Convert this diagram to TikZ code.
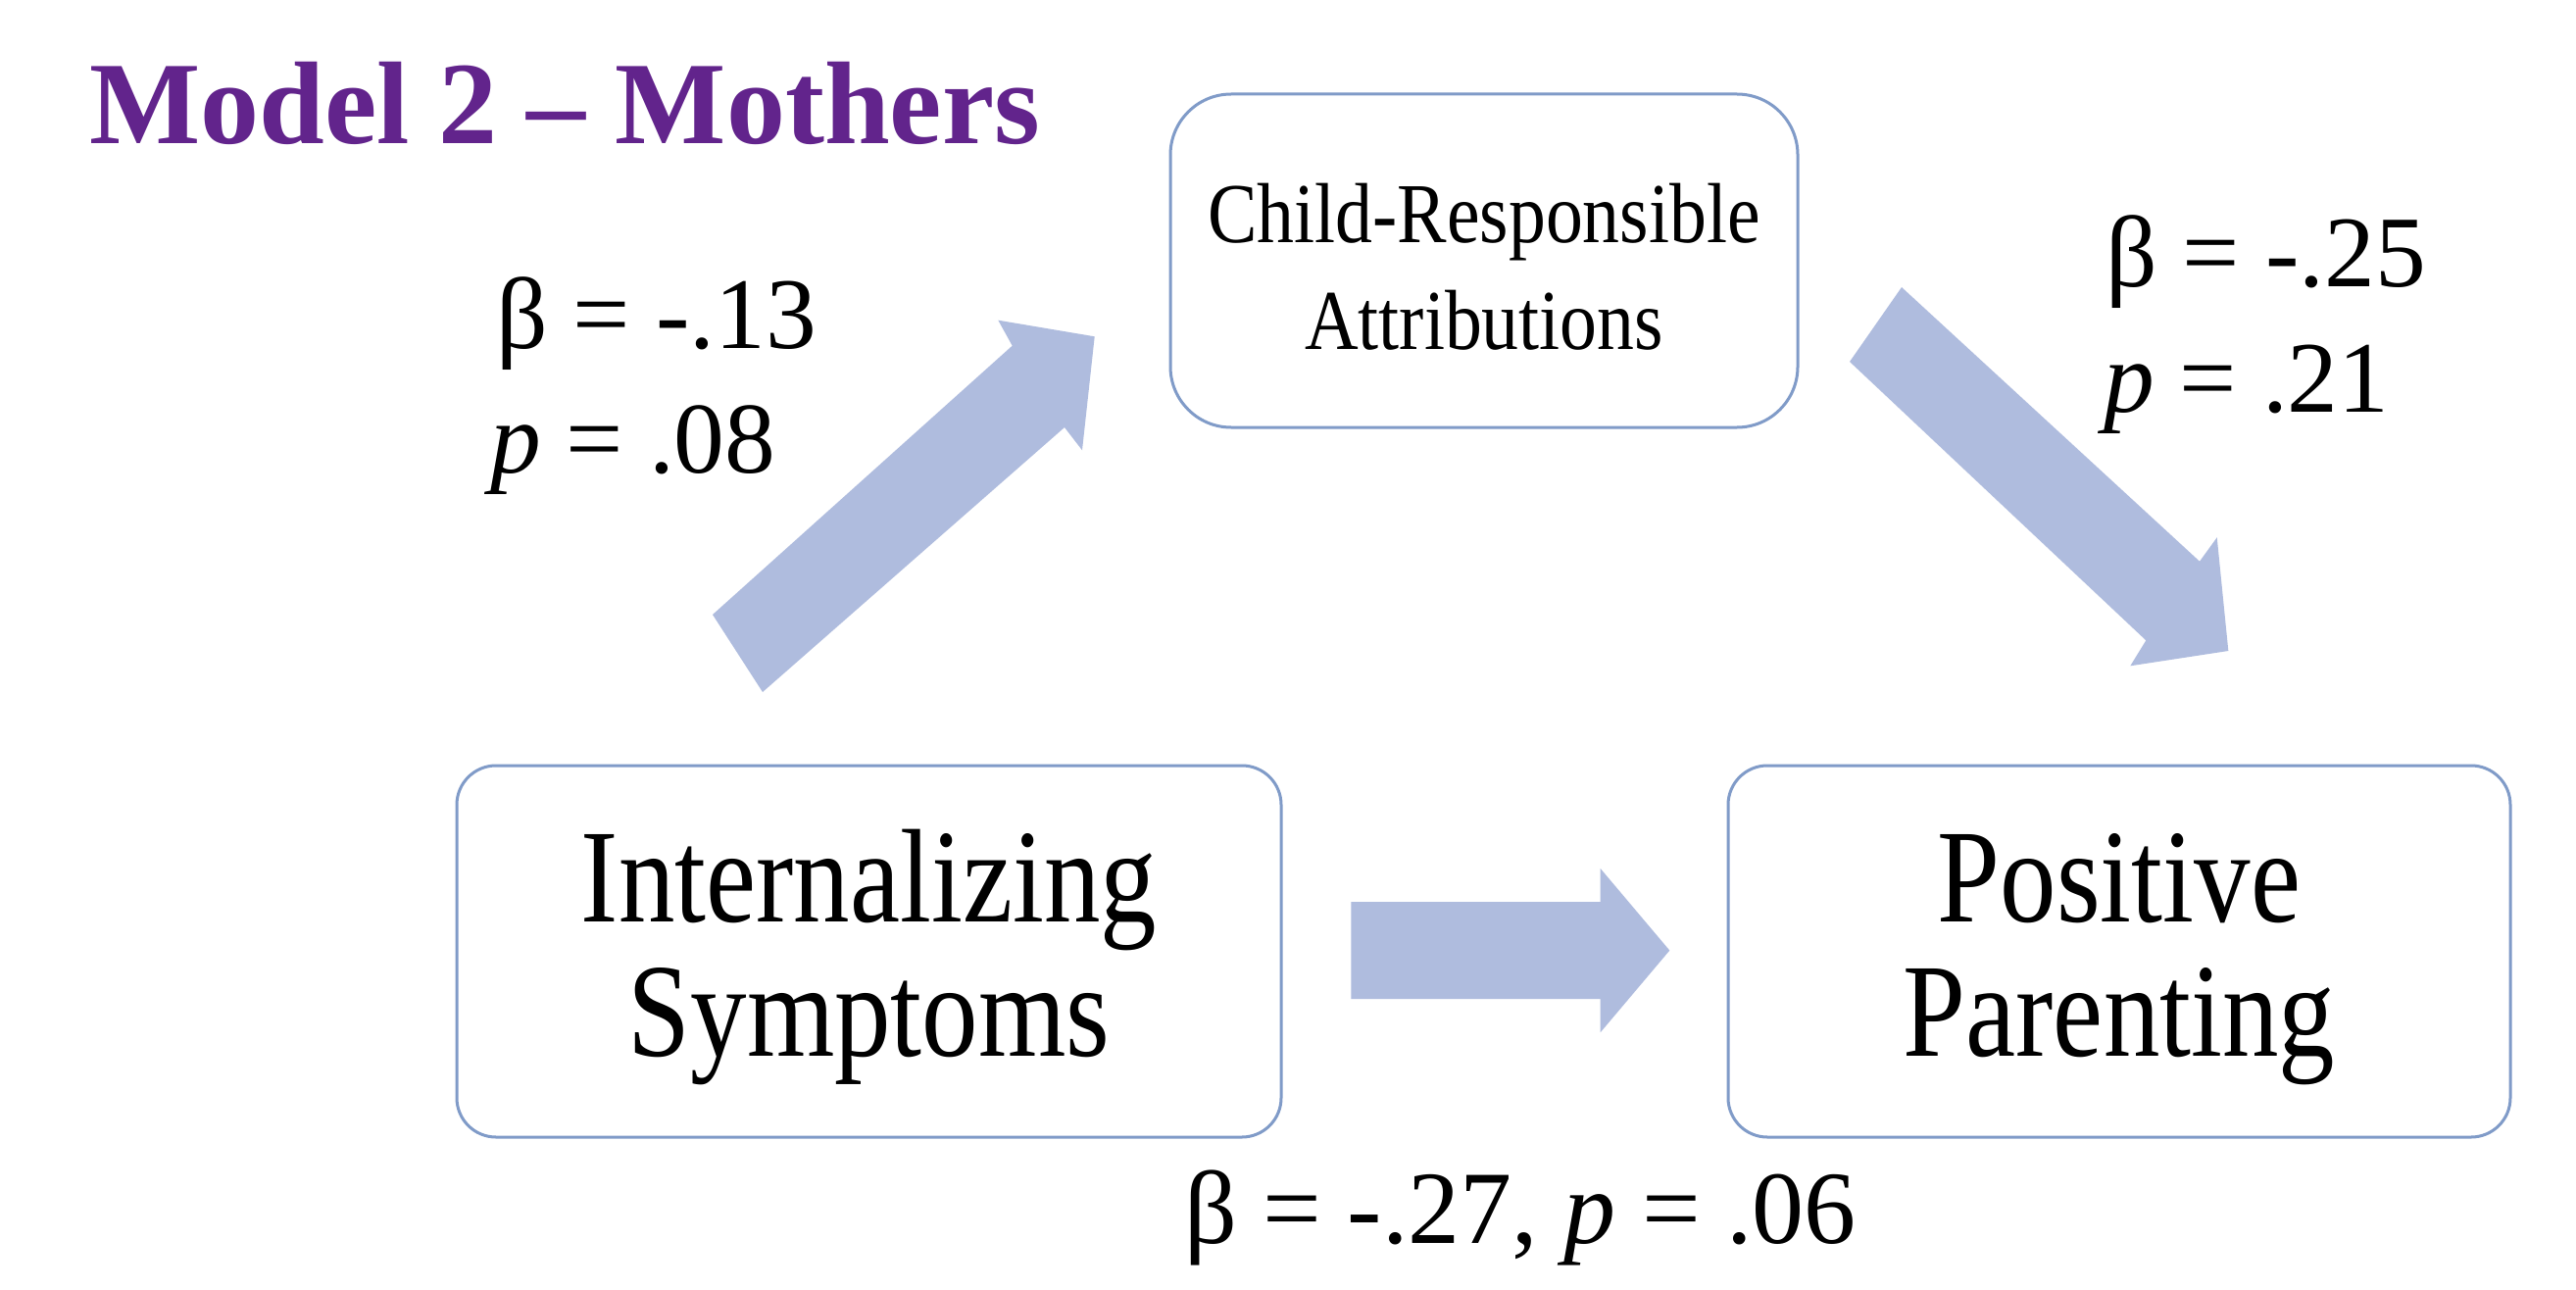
\documentclass[tikz,border=0pt]{standalone}
\usepackage{fontspec}
\setmainfont{Liberation Serif}
\newfontfamily\boxbigfont[FakeStretch=0.845]{Liberation Serif}
\newfontfamily\boxsmallfont[FakeStretch=0.87]{Liberation Serif}
\usetikzlibrary{calc}
\definecolor{titlepurple}{RGB}{98,36,140}
\definecolor{arrowblue}{RGB}{175,188,222}
\definecolor{boxline}{RGB}{128,155,200}
\begin{document}
\begin{tikzpicture}[x=1pt,y=-1pt,
  box/.style={draw=boxline, line width=3pt, rounded corners=40pt, inner sep=0pt, outer sep=0pt, align=center, fill=white},
  bigtext/.style={font={\boxbigfont\fontsize{136}{137}\selectfont}},
  blockarrow/.style={fill=arrowblue, draw=none},
  lbl/.style={anchor=base west, inner sep=0pt, font={\fontsize{103.5}{126.7}\selectfont}}]
\fill[white] (0,0) rectangle (2628,1316);
\useasboundingbox (0,0) rectangle (2628,1316);

% title
\node[anchor=base west, inner sep=0pt, text=titlepurple, font={\fontsize{120}{140}\selectfont\bfseries}] (title) at (91,147) {Model 2 – Mothers};

% boxes
\node[box, rounded corners=62pt, minimum width=640pt, minimum height=340pt,
      font={\boxsmallfont\fontsize{87}{109}\selectfont}] (cra) at (1514,266)
      {\rule{0pt}{73pt}Child-Responsible\\Attributions};
\node[box, bigtext, minimum width=841pt, minimum height=379pt] (int) at (886.5,970.5)
      {\rule{0pt}{105.5pt}Internalizing\\Symptoms};
\node[box, bigtext, minimum width=798pt, minimum height=379pt] (pos) at (2162,970.5)
      {\rule{0pt}{105.5pt}Positive\\Parenting};

% arrow: Internalizing -> Child-Responsible
\coordinate (a1tail) at (752.5,666.5);
\coordinate (a1tip) at (1116.7,343.3);
\fill[blockarrow] ($(a1tail)+(-25.5,-39.5)$) -- ($(a1tip)+(-84,9.4)$) -- ($(a1tip)+(-98.4,-16.6)$)
  -- (a1tip) -- ($(a1tip)+(-12.7,116)$) -- ($(a1tip)+(-30.7,92.7)$) -- ($(a1tail)+(25.5,39.5)$) -- cycle;

% arrow: Child-Responsible -> Positive
\coordinate (a2tail) at (1913.5,331);
\coordinate (a2tip) at (2273.3,664);
\fill[blockarrow] ($(a2tail)+(26.5,-38)$) -- ($(a2tip)+(-29.3,-91.3)$) -- ($(a2tip)+(-11.6,-115.7)$)
  -- (a2tip) -- ($(a2tip)+(-100,15.3)$) -- ($(a2tip)+(-84,-10.7)$) -- ($(a2tail)+(-26.5,38)$) -- cycle;

% arrow: Internalizing -> Positive
\coordinate (a3tail) at ($(int.east)+(71.3,-0.9)$);
\coordinate (a3tip) at ($(pos.west)+(-59.7,-0.9)$);
\fill[blockarrow] ($(a3tail)+(0,-49.6)$) -- ($(a3tip)+(-70.6,-49.6)$) -- ($(a3tip)+(-70.6,-83.6)$)
  -- (a3tip) -- ($(a3tip)+(-70.6,83.6)$) -- ($(a3tip)+(-70.6,49.6)$) -- ($(a3tail)+(0,49.6)$) -- cycle;

% labels
\node[lbl] (b1) at (506,355) {β = -.13};
\node[lbl] (p1) at (500,482) {\textit{p} = .08};
\node[lbl] (b2) at (2148,292) {β = -.25};
\node[lbl] (p2) at (2146,420) {\textit{p} = .21};
\node[lbl, font={\fontsize{106}{126.7}\selectfont}] (b3) at (1208,1268) {β = -.27, \textit{p} = .06};
\end{tikzpicture}
\end{document}
